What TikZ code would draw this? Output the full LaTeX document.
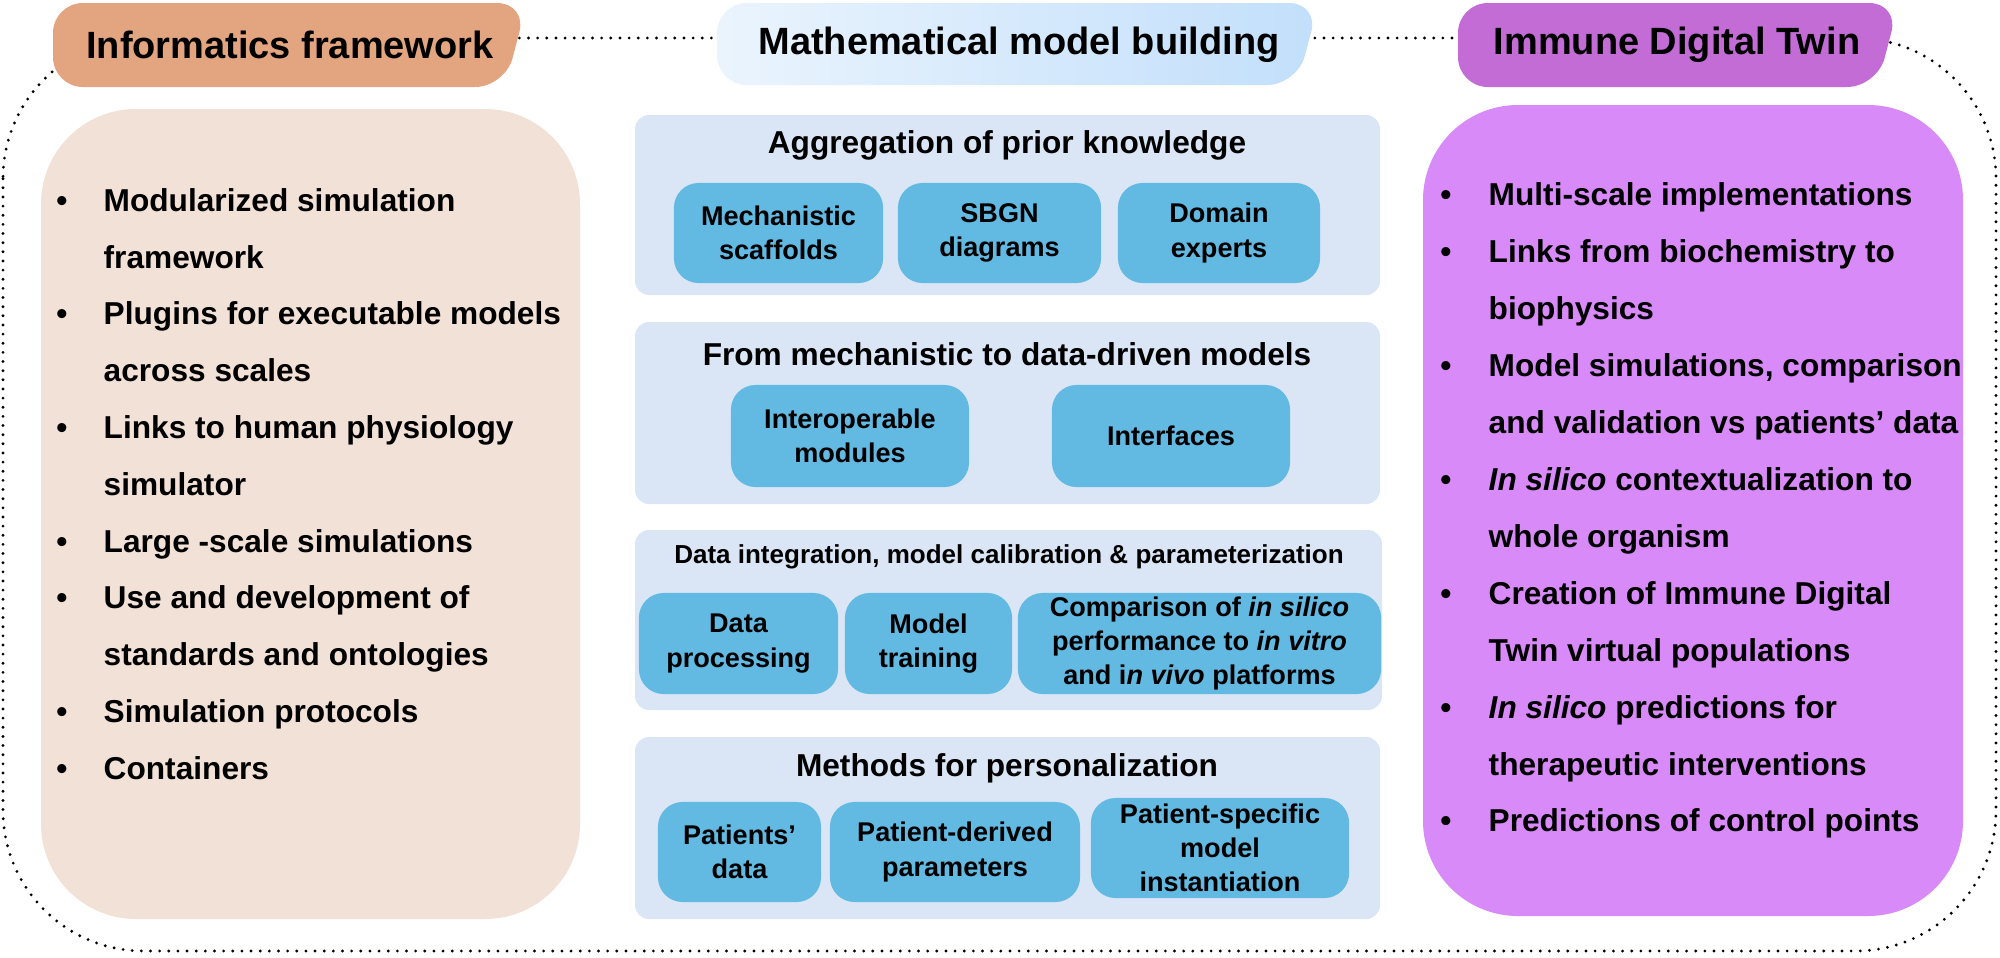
\documentclass[tikz,border=0pt]{standalone}
\usepackage{fontspec}
\setmainfont{Liberation Sans}
\usepackage{tikz}

\definecolor{infohead}{HTML}{E3A580}
\definecolor{infopanel}{HTML}{F2E1D6}
\definecolor{twinhead}{HTML}{C36CD6}
\definecolor{twinpanel}{HTML}{D88AF8}
\definecolor{mathbox}{HTML}{DAE6F6}
\definecolor{mathbtn}{HTML}{62B9E2}
\definecolor{mathlight}{HTML}{EAF4FD}
\definecolor{mathdark}{HTML}{C2DFFB}

\tikzset{
  head/.style={font=\fontsize{10.8}{13}\selectfont\bfseries, inner sep=0pt},
  item/.style={font=\fontsize{9}{11}\selectfont\bfseries, inner sep=0pt, anchor=base west},
  dot/.style={font=\fontsize{9}{11}\selectfont\bfseries, inner sep=0pt, anchor=base},
  title/.style={font=\fontsize{9}{11}\selectfont\bfseries, inner sep=0pt},
  btn/.style={fill=mathbtn, rounded corners=7pt, align=center, inner sep=0pt,
    font=\fontsize{7.7}{9.7}\selectfont\bfseries},
  box/.style={fill=mathbox, rounded corners=4pt},
}

\begin{document}
\begin{tikzpicture}[x=0.01cm, y=-0.01cm]
\useasboundingbox (0,0) rectangle (2000,957);
% dotted frame round the three columns
\draw [line width=0.9pt, dash pattern=on 0pt off 2.6pt, line cap=round, rounded corners=40pt]
  (3,38) rectangle (1996,951);

% headers
\fill [infohead, rounded corners=8.5pt] (53,3) -- (527,3) -- (505,87) -- (53,87) -- cycle;
\node [head] (infoT) at (290,45) {Informatics framework};
\shade [left color=mathlight, right color=mathdark, rounded corners=8.5pt]
  (717,3) -- (1319,3) -- (1297,85) -- (717,85) -- cycle;
\node [head] (mathT) at (1019,45) {Mathematical model building};
\fill [twinhead, rounded corners=8.5pt] (1458,3) -- (1899,3) -- (1877,87) -- (1458,87) -- cycle;
\node [head] (twinT) at (1677,45) {Immune Digital Twin};

% left column
\fill [infopanel, rounded corners=27pt] (41,109) rectangle (580,919);
\foreach \y in {211,324,438,552,608,722,779}
  \node [dot] at (62,\y) {•};
\node [item] (i1) at (103,211) {Modularized simulation};
\node [item] (i2) at (103,268) {framework};
\node [item] (i3) at (103,324) {Plugins for executable models};
\node [item] (i4) at (103,381) {across scales};
\node [item] (i5) at (103,438) {Links to human physiology};
\node [item] (i6) at (103,495) {simulator};
\node [item] (i7) at (103,552) {Large -scale simulations};
\node [item] (i8) at (103,608) {Use and development of};
\node [item] (i9) at (103,665) {standards and ontologies};
\node [item] (i10) at (103,722) {Simulation protocols};
\node [item] (i11) at (103,779) {Containers};

% middle column
\fill [box] (635,115) rectangle (1380,295);
\node [title] (agg) at (1007,145) {Aggregation of prior knowledge};
\node [btn, minimum width=2.09cm, minimum height=1cm] (mech) at (778.5,233) {Mechanistic\\scaffolds};
\node [btn, minimum width=2.03cm, minimum height=1cm] (sbgn) at (999.5,233) {SBGN\\diagrams};
\node [btn, minimum width=2.02cm, minimum height=1cm] (expert) at (1219,233) {Domain\\experts};

\fill [box] (635,322) rectangle (1380,504);
\node [title] (mech2data) at (1007,354) {From mechanistic to data-driven models};
\node [btn, minimum width=2.38cm, minimum height=1.02cm] (modules) at (850,436) {Interoperable\\modules};
\node [btn, minimum width=2.38cm, minimum height=1.02cm] (iface) at (1171,436) {Interfaces};

\fill [box] (635,530) rectangle (1382,710);
\node [title, font=\fontsize{7.4}{9}\selectfont\bfseries] (integ) at (1009,557)
  {Data integration, model calibration \& parameterization};
\node [btn, minimum width=1.99cm, minimum height=1.01cm] (dproc) at (738.5,643.5) {Data\\processing};
\node [btn, minimum width=1.67cm, minimum height=1.01cm] (train) at (928.5,643.5) {Model\\training};
\node [btn, minimum width=3.63cm, minimum height=1.01cm] (compare) at (1199.5,643.5)
  {Comparison of \textit{in silico}\\performance to \textit{in vitro}\\and i\textit{n vivo} platforms};

\fill [box] (635,737) rectangle (1380,919);
\node [title] (perso) at (1007,768) {Methods for personalization};
\node [btn, minimum width=1.63cm, minimum height=1cm] (pdata) at (739.5,852) {Patients’\\data};
\node [btn, minimum width=2.5cm, minimum height=1cm] (pparam) at (955,852) {Patient-derived\\parameters};
\node [btn, minimum width=2.58cm, minimum height=1cm] (pinst) at (1220,848) {Patient-specific\\model\\instantiation};

% right column
\fill [twinpanel, rounded corners=27pt] (1423,105) rectangle (1963,916);
\foreach \y in {205,262,376,490,604,718,831}
  \node [dot] at (1446,\y) {•};
\node [item] (t1) at (1488,205) {Multi-scale implementations};
\node [item] (t2) at (1488,262) {Links from biochemistry to};
\node [item] (t3) at (1488,319) {biophysics};
\node [item] (t4) at (1488,376) {Model simulations, comparison};
\node [item] (t5) at (1488,433) {and validation vs patients’ data};
\node [item] (t6) at (1488,490) {\textit{In silico} contextualization to};
\node [item] (t7) at (1488,547) {whole organism};
\node [item] (t8) at (1488,604) {Creation of Immune Digital};
\node [item] (t9) at (1488,661) {Twin virtual populations};
\node [item] (t10) at (1488,718) {\textit{In silico} predictions for};
\node [item] (t11) at (1488,775) {therapeutic interventions};
\node [item] (t12) at (1488,831) {Predictions of control points};
\end{tikzpicture}
\end{document}
